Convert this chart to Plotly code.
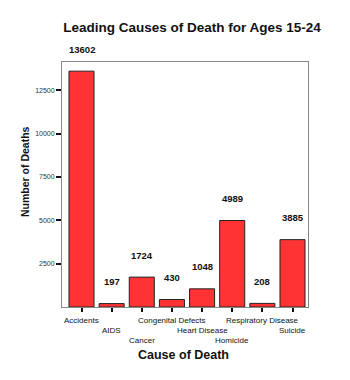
import plotly.graph_objects as go

categories = ["Accidents", "AIDS", "Cancer", "Congenital Defects", "Heart Disease",
              "Homicide", "Respiratory Disease", "Suicide"]
deaths = [13602, 197, 1724, 430, 1048, 4989, 208, 3885]
y_ticks = [2500, 5000, 7500, 10000, 12500]

FONT = "Liberation Sans, Arial, sans-serif"

fig = go.Figure()
fig.add_trace(go.Bar(
    x=categories, y=deaths,
    marker=dict(color="#FF3333", line=dict(color="#222222", width=1)),
    width=0.83,
    hoverinfo="x+y",
))

annotations = []
for c, v in zip(categories, deaths):
    annotations.append(dict(x=c, y=v, xref="x", yref="y", text=f"<b>{v}</b>",
                            showarrow=False, yanchor="middle", yshift=22,
                            font=dict(family=FONT, size=9.5, color="#111111")))
for i, c in enumerate(categories):
    annotations.append(dict(x=c, y=0, xref="x", yref="paper", text=c,
                            showarrow=False, yanchor="middle", yshift=-13 - 10 * (i % 3),
                            font=dict(family=FONT, size=8, color="#111111")))
annotations.append(dict(x=0, y=0, xref="paper", yref="paper",
                        xshift=183 - 62, yshift=-(355 - 307),
                        text="<b>Cause of Death</b>", showarrow=False,
                        xanchor="center", yanchor="middle",
                        font=dict(family=FONT, size=12.5, color="#111111")))
annotations.append(dict(x=0, y=0, xref="paper", yref="paper",
                        xshift=25 - 62, yshift=307 - 172, text="<b>Number of Deaths</b>",
                        showarrow=False, textangle=-90, xanchor="center", yanchor="middle",
                        font=dict(family=FONT, size=10.5, color="#111111")))

fig.update_layout(
    width=350, height=380,
    margin=dict(l=62, r=42, t=62, b=73),
    paper_bgcolor="white", plot_bgcolor="white",
    showlegend=False,
    bargap=0.17,
    title=dict(text="<b>Leading Causes of Death for Ages 15-24</b>", xref="container",
               x=192 / 350, xanchor="center", y=1 - 27 / 380, yanchor="middle",
               font=dict(family=FONT, size=13.5, color="#111111")),
    annotations=annotations,
    xaxis=dict(showticklabels=False, ticks="outside", ticklen=4, tickwidth=1.5,
               tickcolor="#111111", showline=True, linecolor="#888888", linewidth=1,
               mirror=True, showgrid=False, fixedrange=True),
    yaxis=dict(range=[0, 14130], tickvals=y_ticks, tickformat="d", ticks="outside",
               ticklen=5, tickwidth=2, tickcolor="#111111", showline=True,
               linecolor="#888888", linewidth=1, mirror=True, showgrid=False,
               zeroline=False, tickfont=dict(family=FONT, size=7, color="#333333"),
               fixedrange=True),
)

fig.write_html("out.html")
